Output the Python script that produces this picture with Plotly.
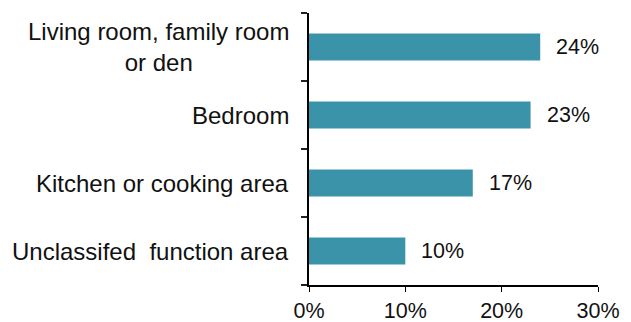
import plotly.graph_objects as go

# Share of items by room type
categories = [
    "Living room, family room<br>or den",
    "Bedroom",
    "Kitchen or cooking area",
    "Unclassifed  function area",
]
shares = [24, 23, 17, 10]
x_ticks = [0, 10, 20, 30]
x_tick_labels = ["0%", "10%", "20%", "30%"]

BAR_COLOR = "#3A93A8"
FAMILY = "Liberation Sans, Arial, sans-serif"
CAT_FONT = dict(family=FAMILY, size=24, color="#111111")
NUM_FONT = dict(family=FAMILY, size=21.5, color="#111111")

# Plot bottom-up so the first category sits at the top
cats_plot = categories[::-1]
vals_plot = shares[::-1]

fig = go.Figure()
fig.add_trace(go.Bar(
    x=vals_plot,
    y=cats_plot,
    orientation="h",
    marker=dict(color=BAR_COLOR, line=dict(width=0)),
    hoverinfo="skip",
))

for c, v in zip(cats_plot, vals_plot):
    # value label just past the bar end
    fig.add_annotation(
        x=v, y=c, text=f"{v}%", showarrow=False,
        xanchor="left", xshift=14, font=NUM_FONT,
    )
    # category label, centred lines, right edge left of the axis
    fig.add_annotation(
        x=0, xref="paper", y=c, text=c, showarrow=False,
        xanchor="right", xshift=-18, align="center", font=CAT_FONT,
    )

fig.update_layout(
    width=631, height=322,
    margin=dict(l=309, r=33, t=13, b=37),
    paper_bgcolor="white", plot_bgcolor="white",
    bargap=0.6,
    showlegend=False,
    font=NUM_FONT,
)
fig.update_xaxes(
    range=[0, 30], automargin=False,
    tickvals=x_ticks, ticktext=x_tick_labels,
    showgrid=False, zeroline=False,
    showline=True, linecolor="black", linewidth=2,
    ticks="outside", ticklen=5, tickwidth=1, tickcolor="black",
    tickfont=NUM_FONT,
)
fig.update_yaxes(
    type="category", automargin=False,
    showgrid=False, zeroline=False,
    showline=True, linecolor="black", linewidth=2,
    ticks="outside", tickson="boundaries", ticklen=6, tickwidth=2, tickcolor="#222222",
    showticklabels=False,
)

fig.write_html("out.html")
